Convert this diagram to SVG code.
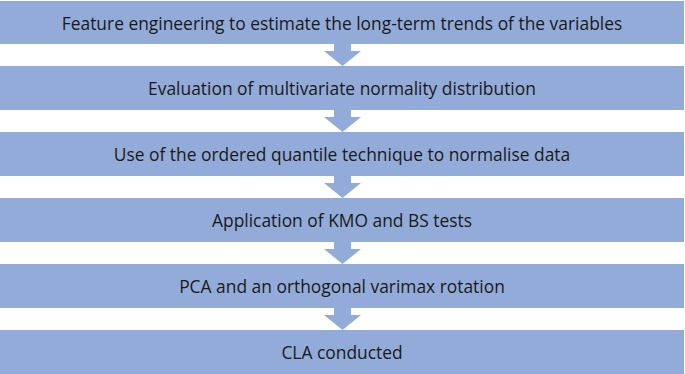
<svg xmlns="http://www.w3.org/2000/svg" width="685" height="374" viewBox="0 0 685 374">
<style>
.box{fill:#93ABD9}
.arr{fill:#93ABD9}
text{font-family:"Open Sans","Liberation Sans",sans-serif;font-size:17.4px;fill:#1a1a1a;text-anchor:middle;dominant-baseline:central}
</style>
<rect width="685" height="374" fill="#ffffff"/>
<g id="connectors">
<polygon class="arr" points="334,44 351,44 351,51 361,51 342.5,66 324,51 334,51"/>
<polygon class="arr" points="334,110 351,110 351,117 361,117 342.5,132 324,117 334,117"/>
<polygon class="arr" points="334,176 351,176 351,183 361,183 342.5,198 324,183 334,183"/>
<polygon class="arr" points="334,242 351,242 351,249 361,249 342.5,264 324,249 334,249"/>
<polygon class="arr" points="334,308 351,308 351,315 361,315 342.5,330 324,315 334,315"/>
</g>
<g id="n1"><rect class="box" x="0" y="1" width="684" height="43"/><text x="342" y="22.5">Feature engineering to estimate the long-term trends of the variables</text></g>
<g id="n2"><rect class="box" x="0" y="66" width="684" height="44"/><text x="342" y="88">Evaluation of multivariate normality distribution</text></g>
<g id="n3"><rect class="box" x="0" y="132" width="684" height="44"/><text x="342" y="154">Use of the ordered quantile technique to normalise data</text></g>
<g id="n4"><rect class="box" x="0" y="198" width="684" height="44"/><text x="342" y="220">Application of KMO and BS tests</text></g>
<g id="n5"><rect class="box" x="0" y="264" width="684" height="44"/><text x="342" y="286">PCA and an orthogonal varimax rotation</text></g>
<g id="n6"><rect class="box" x="0" y="330" width="684" height="44"/><text x="342" y="352">CLA conducted</text></g>
</svg>
